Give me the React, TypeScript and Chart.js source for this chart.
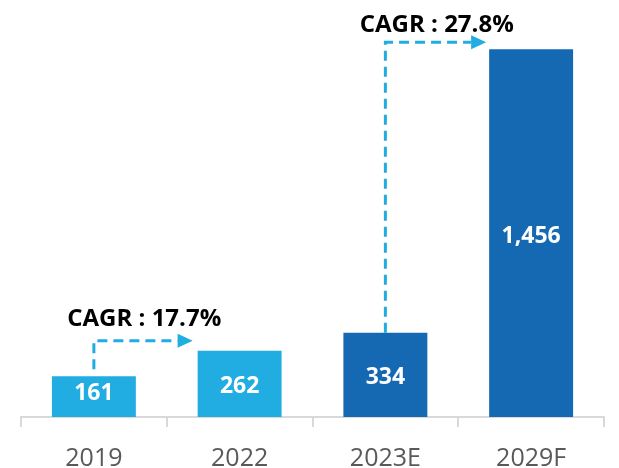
import React, { useEffect, useRef } from "react";
import { Chart, registerables } from "chart.js";

Chart.register(...registerables);

const categories = ["2019", "2022", "2023E", "2029F"];
const values = [161, 262, 334, 1456];
const barColors = ["#21ACE2", "#21ACE2", "#1569B3", "#1569B3"];
const cagrLabels = ["CAGR : 17.7%", "CAGR : 27.8%"];
const cagrFrom = [0, 2];
const cagrTo = [1, 3];

const FONT = "'Open Sans', 'Noto Sans', sans-serif";
const ARROW_COLOR = "#21ACE2";

const annotPlugin = {
  id: "annot",
  afterDatasetsDraw(chart: any) {
    const ctx = chart.ctx;
    const meta = chart.getDatasetMeta(0);
    ctx.save();
    // value labels
    ctx.fillStyle = "#ffffff";
    ctx.font = `bold 23px ${FONT}`;
    ctx.textAlign = "center";
    ctx.textBaseline = "middle";
    meta.data.forEach((bar: any, i: number) => {
      const h = bar.base - bar.y;
      const cy = (bar.y + bar.base) / 2 + (h < 50 ? -3 : 3);
      ctx.fillText(values[i].toLocaleString("en-US"), bar.x, cy);
    });
    // CAGR arrows
    cagrLabels.forEach((label, k) => {
      const a = meta.data[cagrFrom[k]];
      const b = meta.data[cagrTo[k]];
      const startY = k === 0 ? a.y - 7 : a.y;
      const lineY = k === 0 ? b.y - 10 : b.y - 7;
      const tipX = b.x - b.width / 2 - (k === 0 ? 5 : 3);
      const headLen = 15;
      ctx.strokeStyle = ARROW_COLOR;
      ctx.lineWidth = 3;
      ctx.setLineDash([10, 6]);
      ctx.beginPath();
      ctx.moveTo(a.x, startY);
      ctx.lineTo(a.x, lineY);
      ctx.lineTo(tipX - headLen, lineY);
      ctx.stroke();
      ctx.setLineDash([]);
      ctx.fillStyle = ARROW_COLOR;
      ctx.beginPath();
      ctx.moveTo(tipX, lineY);
      ctx.lineTo(tipX - headLen, lineY - 7);
      ctx.lineTo(tipX - headLen, lineY + 7);
      ctx.closePath();
      ctx.fill();
      ctx.fillStyle = "#000000";
      ctx.font = `bold 24px ${FONT}`;
      ctx.textAlign = "center";
      ctx.textBaseline = "alphabetic";
      ctx.fillText(label, (a.x + tipX) / 2 + 1, lineY - (k === 0 ? 15 : 10));
    });
    ctx.restore();
  },
};

export default function App() {
  const ref = useRef<HTMLCanvasElement>(null);
  useEffect(() => {
    if (!ref.current) return;
    const chart = new Chart(ref.current, {
      type: "bar",
      data: {
        labels: categories,
        datasets: [
          {
            data: values,
            backgroundColor: barColors,
            categoryPercentage: 1,
            barPercentage: 0.576,
          },
        ],
      },
      options: {
        animation: false,
        responsive: false,
        maintainAspectRatio: false,
        layout: { padding: { left: 21, right: 15, top: 13, bottom: 0 } },
        plugins: { legend: { display: false }, tooltip: { enabled: false } },
        scales: {
          y: { display: false, min: 0, max: 1600 },
          x: {
            afterFit: (scale: any) => {
              scale.height = 51;
            },
            grid: {
              offset: true,
              drawOnChartArea: false,
              drawTicks: true,
              tickLength: 10,
              color: "#d9d9d9",
              lineWidth: 2,
            },
            border: { display: true, color: "#d9d9d9", width: 2 },
            ticks: {
              color: "#595959",
              font: { family: FONT, size: 25 },
              padding: 17,
            },
          },
        },
      },
      plugins: [annotPlugin],
    });
    return () => chart.destroy();
  }, []);
  return (
    <div style={{ position: "fixed", left: 0, top: 0, width: 619, height: 468, background: "#fff" }}>
      <canvas ref={ref} width={619} height={468} style={{ display: "block" }} />
    </div>
  );
}
